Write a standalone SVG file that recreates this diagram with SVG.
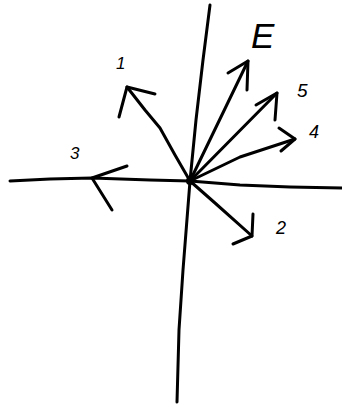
<svg xmlns="http://www.w3.org/2000/svg" width="342" height="407" viewBox="0 0 342 407">
<style>
.ln{fill:none;stroke:#000;stroke-width:3;stroke-linecap:round;stroke-linejoin:round}
.lb{font-family:"Liberation Sans",Arial,sans-serif;fill:#000;font-style:italic}
</style>
<rect width="342" height="407" fill="#fff"/>
<g id="axes">
<path class="ln" d="M210 5 L203 60 L196 120 L190 181 L183 270 L179 330 L177 402"/>
<path class="ln" d="M10 181 L50 179 L92 178 L150 180 L190 181 L240 185 L290 187 L342 188"/>
<circle cx="190" cy="181" r="4" fill="#000"/>
</g>
<g id="arrow-1">
<path class="ln" d="M190 181 L175 155 L160 128 L145 110 L127 87"/>
<path class="ln" d="M155 94 L127 87 L119 117"/>
<text class="lb" x="116" y="69" font-size="17">1</text>
</g>
<g id="arrow-E">
<path class="ln" d="M190 181 L248 61"/>
<path class="ln" d="M228 73 L248 61 L247 90"/>
<text class="lb" x="251" y="48" font-size="35">E</text>
</g>
<g id="arrow-5">
<path class="ln" d="M190 181 L277 93"/>
<path class="ln" d="M256 105 L277 93 L275 120"/>
<text class="lb" x="297" y="97" font-size="19">5</text>
</g>
<g id="arrow-4">
<path class="ln" d="M190 181 L240 157 L295 139"/>
<path class="ln" d="M279 128 L295 139 L281 151"/>
<text class="lb" x="309" y="138" font-size="18">4</text>
</g>
<g id="arrow-3">
<path class="ln" d="M127 166 L92 178 L112 210"/>
<text class="lb" x="70" y="159" font-size="17">3</text>
</g>
<g id="arrow-2">
<path class="ln" d="M190 181 L215 203 L252 236"/>
<path class="ln" d="M253 214 L252 236 L233 244"/>
<text class="lb" x="276" y="234" font-size="18">2</text>
</g>
</svg>
